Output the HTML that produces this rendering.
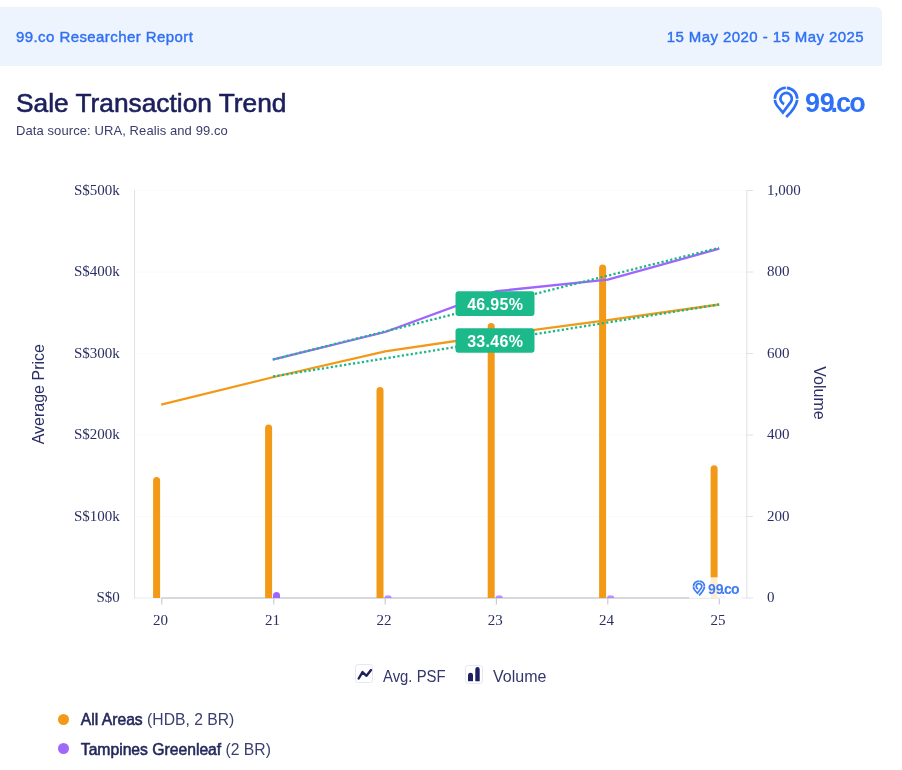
<!DOCTYPE html>
<html>
<head>
<meta charset="utf-8">
<style>
html,body{margin:0;padding:0;background:#fff;}
body{width:902px;height:770px;position:relative;overflow:hidden;font-family:"Liberation Sans",Arial,sans-serif;}
.banner{position:absolute;left:-4px;top:7px;width:886px;height:58.6px;background:#eef4fe;border-radius:6px 6px 0 0;}
.bt{position:absolute;top:0.5px;line-height:58px;font-size:15px;letter-spacing:0.42px;font-weight:400;-webkit-text-stroke:0.4px #2f70f4;color:#2f70f4;white-space:nowrap;}
.title{position:absolute;left:16px;top:88px;font-size:26.3px;font-weight:400;-webkit-text-stroke:0.6px #1c1f5c;color:#1c1f5c;white-space:nowrap;line-height:30px;}
.sub{position:absolute;left:16px;top:123.8px;font-size:13px;letter-spacing:0.09px;color:#393d6c;white-space:nowrap;line-height:14px;}
.logo{position:absolute;left:773px;top:85px;}
svg{position:absolute;left:0;top:0;}
.leg{position:absolute;font-size:15px;color:#3b3f6f;white-space:nowrap;line-height:16px;}
.leg b{color:#23275a;font-weight:400;-webkit-text-stroke:0.55px #23275a;}
.dot{position:absolute;width:11px;height:11px;border-radius:50%;}
</style>
</head>
<body>
<div class="banner">
  <div class="bt" style="left:20px;">99.co Researcher Report</div>
  <div class="bt" style="right:18px;">15 May 2020 - 15 May 2025</div>
</div>
<div class="title">Sale Transaction Trend</div>
<div class="sub">Data source: URA, Realis and 99.co</div>

<svg width="902" height="770" viewBox="0 0 902 770">
  <!-- gridlines -->
  <g stroke="#fafafb" stroke-width="1">
    <line x1="134.5" y1="190.5" x2="747" y2="190.5"/>
    <line x1="134.5" y1="272" x2="747" y2="272"/>
    <line x1="134.5" y1="353.5" x2="747" y2="353.5"/>
    <line x1="134.5" y1="435" x2="747" y2="435"/>
    <line x1="134.5" y1="516.5" x2="747" y2="516.5"/>
  </g>
  <line x1="134.5" y1="598" x2="747" y2="598" stroke="#e9ebf0" stroke-width="1.2"/>
  <!-- left axis -->
  <line x1="134.5" y1="190" x2="134.5" y2="598.5" stroke="#dfe1e5" stroke-width="1"/>
  <!-- right axis -->
  <line x1="746.8" y1="190" x2="746.8" y2="598.5" stroke="#dfe1e5" stroke-width="1"/>
  <g stroke="#dfe1e5" stroke-width="1">
    <line x1="746.8" y1="190.5" x2="753" y2="190.5"/>
    <line x1="746.8" y1="272" x2="753" y2="272"/>
    <line x1="746.8" y1="353.5" x2="753" y2="353.5"/>
    <line x1="746.8" y1="435" x2="753" y2="435"/>
    <line x1="746.8" y1="516.5" x2="753" y2="516.5"/>
    <line x1="746.8" y1="598" x2="753" y2="598"/>
  </g>
  <!-- x axis line -->
  <line x1="161.5" y1="598" x2="719.3" y2="598" stroke="#cdd0d6" stroke-width="1.3"/>
  <g stroke="#c9ccd2" stroke-width="1.2">
    <line x1="161.8" y1="598" x2="161.8" y2="604.5"/>
    <line x1="273.8" y1="598" x2="273.8" y2="604.5"/>
    <line x1="385.2" y1="598" x2="385.2" y2="604.5"/>
    <line x1="496.4" y1="598" x2="496.4" y2="604.5"/>
    <line x1="607.8" y1="598" x2="607.8" y2="604.5"/>
    <line x1="719.3" y1="598" x2="719.3" y2="604.5"/>
  </g>
  <!-- y labels -->
  <g font-family="Liberation Serif, serif" font-size="15" fill="#2b2f63" text-anchor="end">
    <text x="119.8" y="194.6">S$500k</text>
    <text x="119.8" y="276.1">S$400k</text>
    <text x="119.8" y="357.6">S$300k</text>
    <text x="119.8" y="439.1">S$200k</text>
    <text x="119.8" y="520.6">S$100k</text>
    <text x="119.8" y="602.3">S$0</text>
  </g>
  <g font-family="Liberation Serif, serif" font-size="15" fill="#2b2f63" text-anchor="start">
    <text x="767.1" y="194.6">1,000</text>
    <text x="767.1" y="276.1">800</text>
    <text x="767.1" y="357.6">600</text>
    <text x="767.1" y="439.1">400</text>
    <text x="767.1" y="520.6">200</text>
    <text x="767.1" y="602.1">0</text>
  </g>
  <g font-family="Liberation Serif, serif" font-size="15" fill="#2b2f63" text-anchor="middle">
    <text x="160.5" y="625">20</text>
    <text x="272.6" y="625">21</text>
    <text x="384" y="625">22</text>
    <text x="495.2" y="625">23</text>
    <text x="606.6" y="625">24</text>
    <text x="718.1" y="625">25</text>
  </g>
  <text transform="translate(43.5,394.2) rotate(-90)" font-family="Liberation Sans, sans-serif" font-size="16" fill="#2b2f63" text-anchor="middle">Average Price</text>
  <text transform="translate(813.6,393) rotate(90)" font-family="Liberation Sans, sans-serif" font-size="16" fill="#2b2f63" text-anchor="middle">Volume</text>

  <!-- bars orange -->
  <g fill="#f29a18">
    <path d="M153.1 598 V480.4 a3.5 3.5 0 0 1 7 0 V598 Z"/>
    <path d="M265.1 598 V428.1 a3.5 3.5 0 0 1 7 0 V598 Z"/>
    <path d="M376.5 598 V390.4 a3.5 3.5 0 0 1 7 0 V598 Z"/>
    <path d="M487.7 598 V326.5 a3.5 3.5 0 0 1 7 0 V598 Z"/>
    <path d="M599.1 598 V268.1 a3.5 3.5 0 0 1 7 0 V598 Z"/>
    <path d="M710.6 598 V468.7 a3.5 3.5 0 0 1 7 0 V598 Z"/>
  </g>
  <!-- bars purple -->
  <g fill="#a065ff">
    <path d="M273 598 V595.6 a3.5 3.5 0 0 1 7 0 V598 Z"/>
    <path d="M384.5 598 v-0.5 a3.5 2.2 0 0 1 7 0 V598 Z" opacity="0.7"/>
    <path d="M495.7 598 v-0.5 a3.5 2.2 0 0 1 7 0 V598 Z" opacity="0.7"/>
    <path d="M607.1 598 v-0.5 a3.5 2.2 0 0 1 7 0 V598 Z" opacity="0.7"/>
    <path d="M718.6 598 v-0.5 a3.5 2.2 0 0 1 7 0 V598 Z" opacity="0.5"/>
  </g>
  <!-- lines -->
  <polyline fill="none" stroke="#f29a18" stroke-width="2.3" stroke-linejoin="round" points="161.2,404.6 273.8,377 385.2,351.3 496.4,335 607.8,320.1 719.3,304.5"/>
  <polyline fill="none" stroke="#a065ff" stroke-width="2.3" stroke-linejoin="round" points="272.6,359.6 385.2,332 496.4,291.2 607.8,279.6 719.3,248.7"/>
  <!-- trend lines -->
  <line x1="273" y1="376.5" x2="719" y2="304.5" stroke="#1bb685" stroke-width="2.3" stroke-dasharray="2.2 2.3"/>
  <line x1="273" y1="359.5" x2="719" y2="247.8" stroke="#1bb685" stroke-width="2.3" stroke-dasharray="2.2 2.3"/>

  <!-- labels -->
  <rect x="455.5" y="291.3" width="79" height="24.6" rx="3" fill="#1cb98a"/>
  <text x="495.2" y="310.3" font-family="Liberation Sans, sans-serif" font-weight="700" font-size="16" letter-spacing="0.3" fill="#fff" text-anchor="middle">46.95%</text>
  <rect x="455.5" y="328.2" width="79" height="24.6" rx="3" fill="#1cb98a"/>
  <text x="495.2" y="347.3" font-family="Liberation Sans, sans-serif" font-weight="700" font-size="16" letter-spacing="0.3" fill="#fff" text-anchor="middle">33.46%</text>

  <!-- watermark -->
  <rect x="689.3" y="577.3" width="52" height="21.3" fill="#fff" opacity="0.82"/>
  <g transform="translate(691.1,578.2) scale(0.49)" fill="none" stroke="#3d7bf7" stroke-width="3.6">
    <path d="M4.85 16.79 A11.2 11.2 0 0 1 15.80 5.75"/>
    <path d="M16.81 5.78 A11.2 11.2 0 0 1 27.25 16.79"/>
    <path d="M4.88 17.81 A11.2 11.2 0 0 0 6.97 23.50 L12.90 30.60 L20.85 19.87 A5.7 5.7 0 1 0 14.20 22.01"/>
    <path d="M27.22 17.81 Q26.2 25.5 16.2 35.0"/>
  </g>
  <text x="708 715.7 721.2 724.1 730.9" y="593.7" font-family="Liberation Sans, sans-serif" font-weight="700" font-size="14" fill="#3d7bf7">99.co</text>
</svg>

<!-- logo top right -->
<svg class="logo" width="32" height="38" viewBox="0 0 32 38" style="left:770px;top:82px;">
  <g fill="none" stroke="#2e71f8" stroke-width="2.7">
    <path d="M4.85 16.79 A11.2 11.2 0 0 1 15.80 5.75"/>
    <path d="M16.81 5.78 A11.2 11.2 0 0 1 27.25 16.79"/>
    <path d="M4.88 17.81 A11.2 11.2 0 0 0 6.97 23.50 L12.90 30.60 L20.85 19.87 A5.7 5.7 0 1 0 14.20 22.01"/>
    <path d="M27.22 17.81 Q26.2 25.5 16.2 35.0"/>
  </g>
</svg>
<svg style="position:absolute;left:0;top:0" width="902" height="130"><text x="805 819.8 830.5 836 849.2" y="111.7" font-family="Liberation Sans, sans-serif" font-size="27" font-weight="700" fill="#2e71f8">99.co</text></svg>

<!-- legend -->
<div style="position:absolute;left:355.3px;top:664.3px;width:18.2px;height:19.2px;border:1px solid #e6e8f0;border-radius:3px;box-sizing:border-box;"></div>
<svg style="position:absolute;left:355.5px;top:664.5px;" width="18" height="19" viewBox="0 0 18 19"><polyline points="2.7,13.5 6.5,7.1 10.5,10.8 15,5.1" fill="none" stroke="#1d2160" stroke-width="2.4" stroke-linecap="round" stroke-linejoin="round"/></svg>
<div class="leg" style="left:383px;top:669px;color:#33376a;font-size:16px;transform:scaleX(0.93);transform-origin:0 0;">Avg. PSF</div>
<div style="position:absolute;left:464.8px;top:664.6px;width:18px;height:19px;border:1px solid #e6e8f0;border-radius:3px;box-sizing:border-box;"></div>
<svg style="position:absolute;left:465px;top:665px;" width="18" height="19" viewBox="0 0 18 19">
  <path d="M3 16.3 V10.2 a2.5 2.5 0 0 1 5 0 V16.3 Z" fill="#1d2160"/>
  <path d="M10.3 16.3 V4.3 a2.2 2.2 0 0 1 4.4 0 V16.3 Z" fill="#1d2160"/>
</svg>
<div class="leg" style="left:493px;top:669px;color:#33376a;font-size:16px;">Volume</div>

<div class="dot" style="left:58.1px;top:713.6px;background:#f39a1a;"></div>
<div class="leg" style="left:80.8px;top:711.5px;font-size:15.7px;"><b>All Areas</b> (HDB, 2 BR)</div>
<div class="dot" style="left:58.1px;top:742.7px;background:#a067fb;"></div>
<div class="leg" style="left:80.8px;top:741.6px;font-size:15.7px;"><b>Tampines Greenleaf</b> (2 BR)</div>
</body>
</html>
